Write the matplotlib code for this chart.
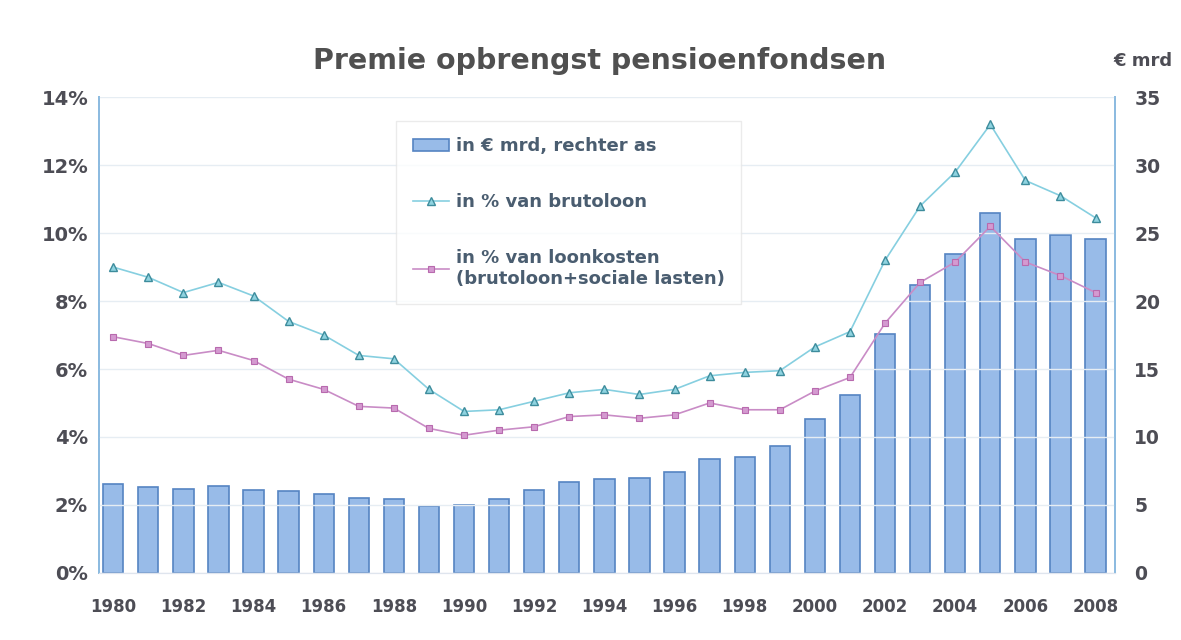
import numpy as np
import matplotlib
matplotlib.use("Agg")
import matplotlib.pyplot as plt

# data
years = list(range(1980, 2009))
premie_mrd = [6.5, 6.3, 6.2, 6.4, 6.1, 6.0, 5.8, 5.5, 5.4, 4.9, 5.0, 5.4, 6.1, 6.7,
              6.9, 7.0, 7.4, 8.4, 8.5, 9.3, 11.3, 13.1, 17.6, 21.2, 23.5, 26.5,
              24.6, 24.9, 24.6]
pct_brutoloon = [9.0, 8.7, 8.25, 8.55, 8.15, 7.4, 7.0, 6.4, 6.3, 5.4, 4.75, 4.8,
                 5.05, 5.3, 5.4, 5.25, 5.4, 5.8, 5.9, 5.95, 6.65, 7.1, 9.2, 10.8,
                 11.8, 13.2, 11.55, 11.1, 10.45]
pct_loonkosten = [6.95, 6.75, 6.4, 6.55, 6.25, 5.7, 5.4, 4.9, 4.85, 4.25, 4.05,
                  4.2, 4.3, 4.6, 4.65, 4.55, 4.65, 5.0, 4.8, 4.8, 5.35, 5.75,
                  7.35, 8.55, 9.15, 10.2, 9.15, 8.75, 8.25]
xtick_labels = [str(y) for y in years[::2]]

plt.rcParams['font.family'] = ['DejaVu Sans']
plt.rcParams['font.weight'] = 'bold'
txt = '#4d4d55'

fig = plt.figure(figsize=(11.81, 6.4), dpi=100)
ax = fig.add_axes([0.084, 0.105, 0.86, 0.743])
ax2 = ax.twinx()
ax.set_zorder(ax2.get_zorder() + 1)
ax.patch.set_visible(False)

x = np.arange(len(years))
bars = ax2.bar(x, premie_mrd, width=0.58, color='#98bbe8', edgecolor='#5584c2',
               linewidth=1.2, label='in € mrd, rechter as')
l1, = ax.plot(x, pct_brutoloon, color='#86cfe0', lw=1.2, marker='^', ms=6,
              mfc='#8fd3e0', mec='#3d8c9c', mew=1.0, label='in % van brutoloon')
l2, = ax.plot(x, pct_loonkosten, color='#c98cc6', lw=1.2, marker='s', ms=5,
              mfc='#d49ad0', mec='#b86aae', mew=0.8,
              label='in % van loonkosten\n(brutoloon+sociale lasten)')

ax.set_xlim(-0.4, 28.55)
ax.set_ylim(0, 14)
ax2.set_ylim(0, 35)
ax.set_yticks(np.arange(0, 15, 2))
ax.set_yticklabels([f'{v}%' for v in range(0, 15, 2)])
ax2.set_yticks(np.arange(0, 36, 5))
ax.set_xticks(x[::2])
ax.set_xticklabels(xtick_labels)

ax.grid(axis='y', color='#e6edf3', lw=1)
ax.set_axisbelow(True)
for a in (ax, ax2):
    a.spines['top'].set_visible(False)
    a.spines['left'].set_color('#8cbbe0')
    a.spines['right'].set_color('#8cbbe0')
    a.spines['bottom'].set_color('#dfe5ee')
    a.spines['left'].set_linewidth(1.3)
    a.spines['right'].set_linewidth(1.3)
ax.tick_params(axis='y', length=0, pad=8, labelsize=14, labelcolor=txt)
ax2.tick_params(axis='y', length=0, pad=14, labelsize=13.5, labelcolor=txt)
ax.tick_params(axis='x', length=0, pad=18, labelsize=12, labelcolor=txt)

fig.text(0.508, 0.905, 'Premie opbrengst pensioenfondsen', ha='center', va='center',
         fontsize=20.5, fontweight='bold', color='#505050')
fig.text(0.968, 0.905, '€ mrd', ha='center', va='center', fontsize=13,
         fontweight='bold', color=txt)

leg = fig.legend(handles=[bars, l1, l2], loc='upper left',
                 bbox_to_anchor=(0.328, 0.825), frameon=True, fontsize=13,
                 labelspacing=2.1, handlelength=2.0, handletextpad=0.4,
                 borderpad=0.9, labelcolor='#4a5d70', fancybox=False)
leg.get_frame().set_edgecolor('#e6e6e6')
leg.get_frame().set_linewidth(1)

fig.savefig('out.png', dpi=100)
